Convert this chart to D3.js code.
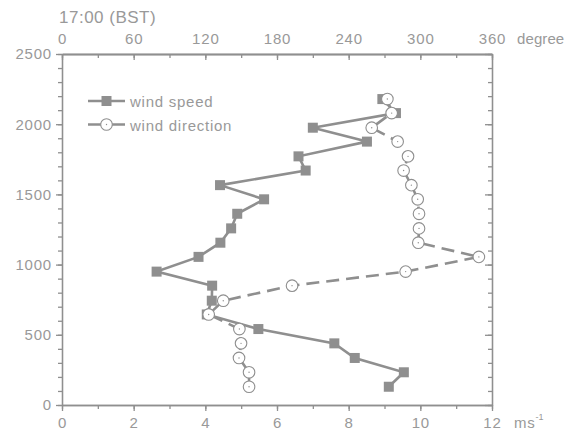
<!DOCTYPE html>
<html>
<head>
<meta charset="utf-8">
<script src="https://cdn.jsdelivr.net/npm/d3@7/dist/d3.min.js"></script>
<style>
  html, body { margin: 0; padding: 0; background: #fff; }
  svg { display: block; font-family: "Liberation Sans", Arial, sans-serif; }
</style>
</head>
<body>
<svg id="chart" width="568" height="432"></svg>
<script>
// Vertical profile at 17:00 BST: height (m) vs wind speed and wind direction
const heights = [130, 233, 335, 439, 541, 645, 743, 850, 950, 1055, 1156,
                 1258, 1362, 1465, 1566, 1670, 1771, 1876, 1975, 2079, 2179];
const windSpeed = [9.12, 9.54, 8.17, 7.6, 5.48, 4.04, 4.18, 4.19, 2.64, 3.81, 4.42,
                   4.72, 4.89, 5.64, 4.41, 6.8, 6.6, 8.51, 7.0, 9.32, 8.94];
const windDir = [156.6, 156.6, 148.2, 149.9, 148.5, 122.8, 135, 192.6, 287.7, 349, 298.3,
                 298.9, 298.9, 297.8, 292.5, 286, 289.7, 281, 259.3, 276, 272.4];

const speedTicks = [0, 2, 4, 6, 8, 10, 12];
const dirTicks = [0, 60, 120, 180, 240, 300, 360];
const heightTicks = [0, 500, 1000, 1500, 2000, 2500];

const markColor = "#8f8f8f";
const textColor = "#999999";
const labelFont = "15px";
const labelSpacing = "0.8px";

const svg = d3.select("#chart");
const pLeft = 62, pRight = 492, pTop = 54, pBottom = 405;

const x = d3.scaleLinear().domain([0, 12]).range([pLeft, pRight]);
const xDeg = d3.scaleLinear().domain([0, 360]).range([pLeft, pRight]);
const y = d3.scaleLinear().domain([0, 2500]).range([pBottom, pTop]);

function styleAxis(g) {
  g.selectAll(".domain").attr("stroke", markColor).attr("stroke-width", 1.3);
  g.selectAll(".tick line").attr("stroke", markColor).attr("stroke-width", 1.3);
  g.selectAll("text").attr("fill", textColor).style("font-size", labelFont)
    .style("letter-spacing", labelSpacing)
    .style("font-family", "'Liberation Sans', Arial, sans-serif");
}

// minor ticks
const speedMinor = d3.range(0, 12.01, 1);
const dirMinor = d3.range(0, 360.1, 30);
const hMinor = d3.range(0, 2501, 100);

// bottom axis (m/s)
svg.append("g").attr("transform", `translate(0,${pBottom})`)
  .call(d3.axisBottom(x).tickValues(speedMinor).tickFormat("").tickSize(4).tickSizeOuter(0))
  .call(styleAxis);
svg.append("g").attr("transform", `translate(0,${pBottom})`)
  .call(d3.axisBottom(x).tickValues(speedTicks).tickFormat(d3.format("d")).tickSize(6).tickPadding(6).tickSizeOuter(0))
  .call(styleAxis);

// top axis (degree), ticks pointing inward
svg.append("g").attr("transform", `translate(0,${pTop})`)
  .call(d3.axisBottom(xDeg).tickValues(dirMinor).tickFormat("").tickSize(4).tickSizeOuter(0))
  .call(styleAxis);
svg.append("g").attr("transform", `translate(0,${pTop})`)
  .call(d3.axisTop(xDeg).tickValues(dirTicks).tickFormat(d3.format("d")).tickSize(0).tickPadding(10).tickSizeOuter(0))
  .call(styleAxis);
svg.append("g").attr("transform", `translate(0,${pTop})`)
  .call(d3.axisBottom(xDeg).tickValues(dirTicks).tickFormat("").tickSize(6).tickSizeOuter(0))
  .call(styleAxis);

// left axis (height)
svg.append("g").attr("transform", `translate(${pLeft},0)`)
  .call(d3.axisLeft(y).tickValues(hMinor).tickFormat("").tickSize(4).tickSizeOuter(0))
  .call(styleAxis);
svg.append("g").attr("transform", `translate(${pLeft},0)`)
  .call(d3.axisLeft(y).tickValues(heightTicks).tickFormat(d3.format("d")).tickSize(6).tickPadding(4).tickSizeOuter(0))
  .call(styleAxis);

// right axis, mirrored ticks inward
svg.append("g").attr("transform", `translate(${pRight},0)`)
  .call(d3.axisLeft(y).tickValues(hMinor).tickFormat("").tickSize(4).tickSizeOuter(0))
  .call(styleAxis);
svg.append("g").attr("transform", `translate(${pRight},0)`)
  .call(d3.axisLeft(y).tickValues(heightTicks).tickFormat("").tickSize(7).tickSizeOuter(0))
  .call(styleAxis);

// axis unit labels and title
svg.append("text").attr("x", 59).attr("y", 23).attr("fill", textColor)
  .style("font-size", "17px").style("letter-spacing", "0.5px").text("17:00 (BST)");
svg.append("text").attr("x", 517).attr("y", 44).attr("fill", textColor)
  .style("font-size", labelFont).style("letter-spacing", "0.1px").text("degree");
const ms = svg.append("text").attr("x", 514).attr("y", 428).attr("fill", textColor)
  .style("font-size", labelFont).style("letter-spacing", labelSpacing);
ms.append("tspan").text("ms");
ms.append("tspan").attr("dy", -8).style("font-size", "9px").style("letter-spacing", "0px").text("-1");

const plot = svg.append("g");

// wind direction (dashed, open circles)
const dirLine = d3.line().x((d, i) => xDeg(windDir[i])).y(d => y(d));
plot.append("path").datum(heights).attr("d", dirLine)
  .attr("fill", "none").attr("stroke", markColor).attr("stroke-width", 2.6)
  .attr("stroke-dasharray", "13,7");

// wind speed (solid, filled squares)
const spdLine = d3.line().x((d, i) => x(windSpeed[i])).y(d => y(d));
plot.append("path").datum(heights).attr("d", spdLine)
  .attr("fill", "none").attr("stroke", markColor).attr("stroke-width", 2.6);

const sq = 10;
plot.selectAll("rect.spd").data(heights).enter().append("rect")
  .attr("class", "spd")
  .attr("x", (d, i) => x(windSpeed[i]) - sq / 2)
  .attr("y", d => y(d) - sq / 2)
  .attr("width", sq).attr("height", sq).attr("fill", markColor);

const dirPts = plot.selectAll("g.dir").data(heights).enter().append("g")
  .attr("class", "dir")
  .attr("transform", (d, i) => `translate(${xDeg(windDir[i])},${y(d)})`);
dirPts.append("circle").attr("r", 5.8).attr("fill", "#fff")
  .attr("stroke", markColor).attr("stroke-width", 1.1);
dirPts.append("circle").attr("r", 0.7).attr("fill", markColor);

// legend
const lg = svg.append("g");
const legendRows = [
  { label: "wind speed", y: 101 },
  { label: "wind direction", y: 124.5 }
];
legendRows.forEach((r, k) => {
  lg.append("line").attr("x1", 88).attr("x2", 125).attr("y1", r.y).attr("y2", r.y)
    .attr("stroke", markColor).attr("stroke-width", 2.6);
  if (k === 0) {
    lg.append("rect").attr("x", 106.5 - sq / 2).attr("y", r.y - sq / 2)
      .attr("width", sq).attr("height", sq).attr("fill", markColor);
  } else {
    lg.append("circle").attr("cx", 106.5).attr("cy", r.y).attr("r", 5.8)
      .attr("fill", "#fff").attr("stroke", markColor).attr("stroke-width", 1.1);
    lg.append("circle").attr("cx", 106.5).attr("cy", r.y).attr("r", 0.7).attr("fill", markColor);
  }
  lg.append("text").attr("x", 130).attr("y", r.y + 6).attr("fill", textColor)
    .style("font-size", labelFont).style("letter-spacing", "0.75px").text(r.label);
});
</script>
</body>
</html>
